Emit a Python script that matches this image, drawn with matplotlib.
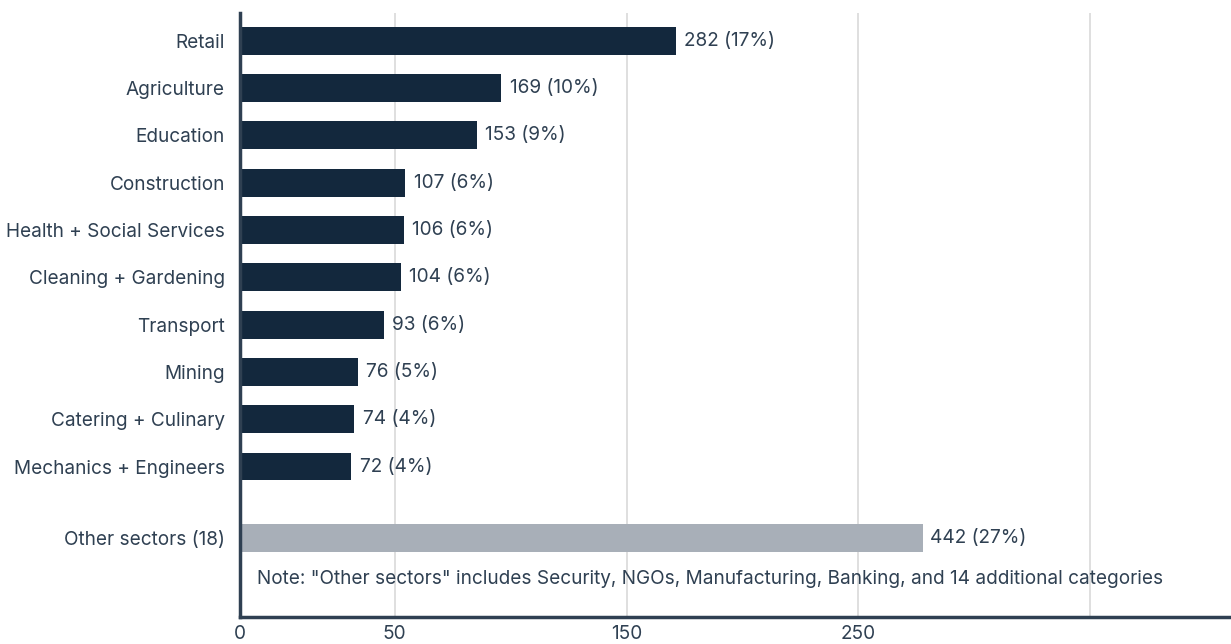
import matplotlib.pyplot as plt

plt.rcParams['font.family'] = ['Inter', 'DejaVu Sans']

sectors = ["Retail", "Agriculture", "Education", "Construction",
           "Health + Social Services", "Cleaning + Gardening", "Transport",
           "Mining", "Catering + Culinary", "Mechanics + Engineers"]
counts = [282, 169, 153, 107, 106, 104, 93, 76, 74, 72]
shares = [17, 10, 9, 6, 6, 6, 6, 5, 4, 4]

other_label = "Other sectors (18)"
other_count = 442
other_share = 27

tick_pos = [0, 100, 250, 400, 550]
tick_text = ["0", "50", "150", "250", ""]

note = ('Note: "Other sectors" includes Security, NGOs, Manufacturing, '
        'Banking, and 14 additional categories')

navy = "#13283d"
grey = "#a8afb8"
ink = "#2f4052"
fs = 13.7

fig = plt.figure(figsize=(12.31, 6.44), dpi=100)
ax = fig.add_axes([0.195, 0.042, 0.805, 0.938])

ypos = list(range(len(sectors)))
other_y = len(sectors) + 0.52

ax.barh(ypos, counts, height=0.59, color=navy, zorder=2)
ax.barh([other_y], [other_count], height=0.59, color=grey, zorder=2)

for y, c, s in zip(ypos, counts, shares):
    ax.annotate(f"{c} ({s}%)", (c, y), xytext=(6, 0), textcoords="offset points",
                va="center", ha="left", fontsize=fs, color=ink)
ax.annotate(f"{other_count} ({other_share}%)", (other_count, other_y),
            xytext=(5, 0), textcoords="offset points",
            va="center", ha="left", fontsize=fs, color=ink)

ax.text(11, other_y + 0.85, note, va="center", ha="left", fontsize=fs, color=ink)

ax.set_yticks(ypos + [other_y])
ax.set_yticklabels(sectors + [other_label], fontsize=fs, color=ink)
ax.set_xticks(tick_pos)
ax.set_xticklabels(tick_text, fontsize=fs, color=ink)
ax.tick_params(axis="both", length=0)
ax.tick_params(axis="y", pad=11)
ax.tick_params(axis="x", pad=6)

ax.set_xlim(0, 641)
ax.set_ylim(12.18, -0.59)

ax.grid(axis="x", color="#dcdcdc", linewidth=1.3, zorder=0)
ax.set_axisbelow(True)
for side in ["top", "right"]:
    ax.spines[side].set_visible(False)
for side in ["left", "bottom"]:
    ax.spines[side].set_color(ink)
    ax.spines[side].set_linewidth(2.5)

fig.savefig("out.png", dpi=100)
